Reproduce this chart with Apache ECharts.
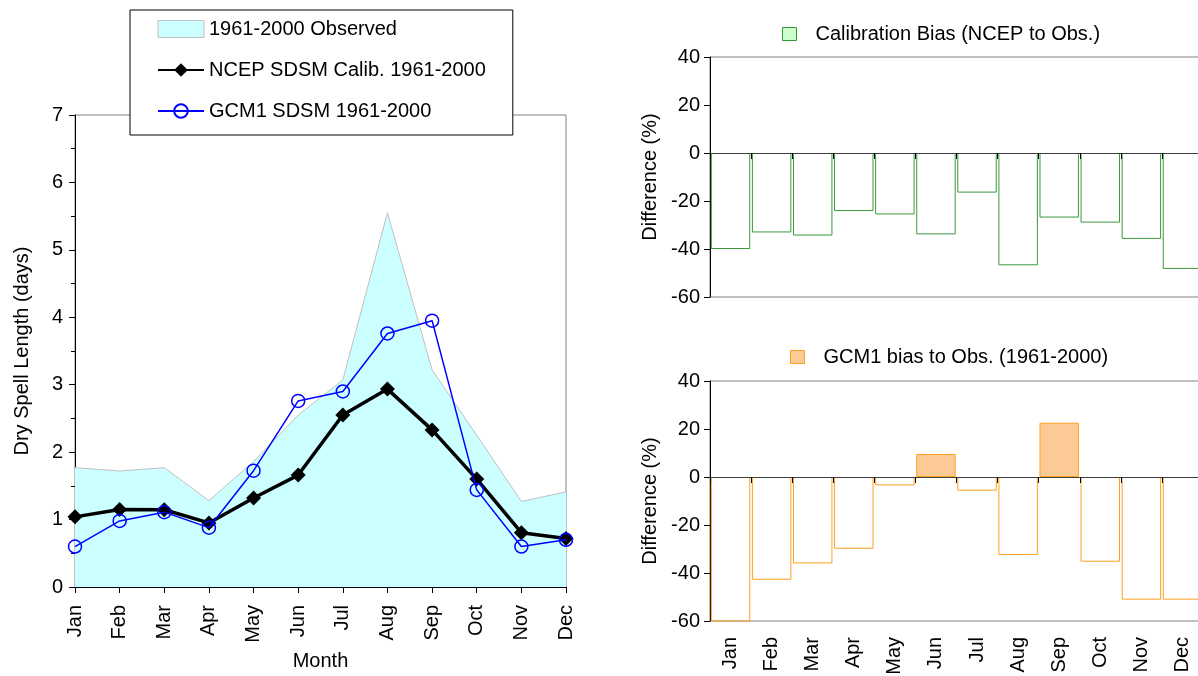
<!DOCTYPE html>
<html>
<head>
<meta charset="utf-8">
<script src="https://cdn.jsdelivr.net/npm/echarts@6/dist/echarts.min.js"></script>
<style>
html, body { margin: 0; padding: 0; background: #fff; }
#chart { width: 1198px; height: 676px; }
</style>
</head>
<body>
<div id="chart"></div>
<script>
var months = ['Jan', 'Feb', 'Mar', 'Apr', 'May', 'Jun', 'Jul', 'Aug', 'Sep', 'Oct', 'Nov', 'Dec'];
// dry spell length (days)
var observed = [1.77, 1.72, 1.77, 1.28, 1.86, 2.55, 3.07, 5.55, 3.22, 2.25, 1.27, 1.41];
var ncepCalib = [1.04, 1.15, 1.145, 0.95, 1.32, 1.66, 2.55, 2.935, 2.33, 1.6, 0.805, 0.72];
var gcm1 = [0.6, 0.98, 1.11, 0.88, 1.725, 2.76, 2.9, 3.76, 3.95, 1.44, 0.6, 0.7];
// bias (%)
var calibBias = [-40, -33.1, -34.4, -24.2, -25.6, -33.9, -16.5, -46.8, -26.9, -29, -35.8, -48.3];
var gcmBias = [-62, -42.8, -36, -29.9, -3.5, 9.6, -5.7, -32.5, 22.6, -35.3, -51.1, -51.1];
// axis ranges
var dryRange = [0, 7, 1];
var biasRange = [-60, 40, 20];

var FONT = 'Liberation Sans';
var txt = { color: '#000', fontFamily: FONT, fontSize: 20 };

var dom = document.getElementById('chart');
var myChart = echarts.init(dom, null, { renderer: 'canvas' });

function biasY(gridIndex) {
  return {
    type: 'value',
    gridIndex: gridIndex,
    min: biasRange[0],
    max: biasRange[1],
    interval: biasRange[2],
    name: 'Difference (%)',
    nameLocation: 'middle',
    nameGap: 50,
    nameTextStyle: txt,
    axisLine: { show: true, onZero: false, lineStyle: { color: '#000', width: 1 } },
    axisTick: { show: true, length: 6, lineStyle: { color: '#000' } },
    axisLabel: Object.assign({ margin: 10 }, txt),
    splitLine: { show: false }
  };
}

var option = {
  animation: false,
  backgroundColor: '#fff',
  textStyle: { fontFamily: FONT },
  legend: [
    {
      orient: 'vertical',
      left: 130,
      top: 10,
      backgroundColor: '#fff',
      borderColor: '#000',
      borderWidth: 1,
      padding: [9, 27, 14, 27],
      itemGap: 21,
      itemWidth: 46,
      itemHeight: 17,
      textStyle: Object.assign({ lineHeight: 20 }, txt),
      data: [
        { name: '1961-2000 Observed', icon: 'rect', itemStyle: { color: '#ccffff', borderColor: '#c0c0c0', borderWidth: 1 } },
        { name: 'NCEP SDSM Calib. 1961-2000' },
        { name: 'GCM1 SDSM 1961-2000' }
      ]
    },
    {
      left: 782,
      top: 24,
      padding: 0,
      itemWidth: 14,
      itemHeight: 13,
      textStyle: Object.assign({ padding: [0, 0, 0, 14] }, txt),
      data: [{ name: 'Calibration Bias (NCEP to Obs.)', icon: 'rect', itemStyle: { color: '#ccffcc', borderColor: '#339933', borderWidth: 1 } }]
    },
    {
      left: 790,
      top: 347,
      padding: 0,
      itemWidth: 14,
      itemHeight: 13,
      textStyle: Object.assign({ padding: [0, 0, 0, 14] }, txt),
      data: [{ name: 'GCM1 bias to Obs. (1961-2000)', icon: 'rect', itemStyle: { color: '#fccb95', borderColor: '#ffa020', borderWidth: 1 } }]
    }
  ],
  grid: [
    { left: 75, top: 115, width: 491, height: 472, show: true, borderColor: '#808080', borderWidth: 1, outerBoundsMode: 'none' },
    { left: 710, top: 57, width: 493, height: 240, show: true, borderColor: '#808080', borderWidth: 1, outerBoundsMode: 'none' },
    { left: 710, top: 381, width: 493, height: 240, show: true, borderColor: '#808080', borderWidth: 1, outerBoundsMode: 'none' }
  ],
  xAxis: [
    {
      type: 'category',
      gridIndex: 0,
      data: months,
      boundaryGap: false,
      name: 'Month',
      nameLocation: 'middle',
      nameGap: 64,
      nameTextStyle: txt,
      axisLine: { lineStyle: { color: '#000', width: 1 } },
      axisTick: { show: true, length: 6, alignWithLabel: true, lineStyle: { color: '#000' } },
      axisLabel: Object.assign({ rotate: 90, interval: 0, margin: 18 }, txt)
    },
    {
      type: 'category',
      gridIndex: 1,
      data: months,
      z: 5,
      axisLine: { onZero: true, lineStyle: { color: '#404040', width: 1 } },
      axisTick: { show: true, interval: 0, length: 6, lineStyle: { color: '#000' } },
      axisLabel: { show: false }
    },
    {
      type: 'category',
      gridIndex: 2,
      data: months,
      z: 5,
      axisLine: { onZero: true, lineStyle: { color: '#404040', width: 1 } },
      axisTick: { show: true, interval: 0, length: 6, lineStyle: { color: '#000' } },
      axisLabel: { show: false }
    },
    {
      type: 'category',
      gridIndex: 2,
      data: months,
      position: 'bottom',
      axisLine: { show: false, onZero: false },
      axisTick: { show: false },
      axisLabel: Object.assign({ rotate: 90, interval: 0, margin: 16 }, txt)
    }
  ],
  yAxis: [
    {
      type: 'value',
      gridIndex: 0,
      min: dryRange[0],
      max: dryRange[1],
      interval: dryRange[2],
      name: 'Dry Spell Length (days)',
      nameLocation: 'middle',
      nameGap: 43,
      nameTextStyle: txt,
      axisLine: { show: true, lineStyle: { color: '#000', width: 1 } },
      axisTick: { show: true, length: 6, lineStyle: { color: '#000' } },
      minorTick: { show: true, splitNumber: 2, length: 4, lineStyle: { color: '#000' } },
      axisLabel: Object.assign({ margin: 12 }, txt),
      splitLine: { show: false }
    },
    biasY(1),
    biasY(2)
  ],
  series: [
    {
      name: '1961-2000 Observed',
      type: 'line',
      xAxisIndex: 0,
      yAxisIndex: 0,
      data: observed,
      symbol: 'none',
      lineStyle: { color: '#c0c0c0', width: 1 },
      itemStyle: { color: '#ccffff' },
      areaStyle: { color: '#ccffff', opacity: 1 },
      z: 1
    },
    {
      name: 'NCEP SDSM Calib. 1961-2000',
      type: 'line',
      xAxisIndex: 0,
      yAxisIndex: 0,
      data: ncepCalib,
      symbol: 'diamond',
      symbolSize: 15,
      lineStyle: { color: '#000', width: 3.5 },
      itemStyle: { color: '#000' },
      z: 3
    },
    {
      name: 'GCM1 SDSM 1961-2000',
      type: 'line',
      xAxisIndex: 0,
      yAxisIndex: 0,
      data: gcm1,
      symbol: 'circle',
      symbolSize: 13,
      lineStyle: { color: '#0000ff', width: 1.5 },
      itemStyle: { color: 'rgba(0,0,0,0)', borderColor: '#0000ff', borderWidth: 1.5 },
      z: 4
    },
    {
      name: 'Calibration Bias (NCEP to Obs.)',
      type: 'bar',
      xAxisIndex: 1,
      yAxisIndex: 1,
      data: calibBias,
      barCategoryGap: '4%',
      itemStyle: { color: 'rgba(0,0,0,0)', borderColor: '#3a9a3a', borderWidth: 1 }
    },
    {
      name: 'GCM1 bias to Obs. (1961-2000)',
      type: 'bar',
      xAxisIndex: 2,
      yAxisIndex: 2,
      data: gcmBias.map(function (v) {
        return v > 0 ? { value: v, itemStyle: { color: '#fccb95' } } : v;
      }),
      barCategoryGap: '4%',
      itemStyle: { color: 'rgba(0,0,0,0)', borderColor: '#ffa020', borderWidth: 1 }
    }
  ]
};

myChart.setOption(option);
window.addEventListener('resize', myChart.resize);
</script>
</body>
</html>
